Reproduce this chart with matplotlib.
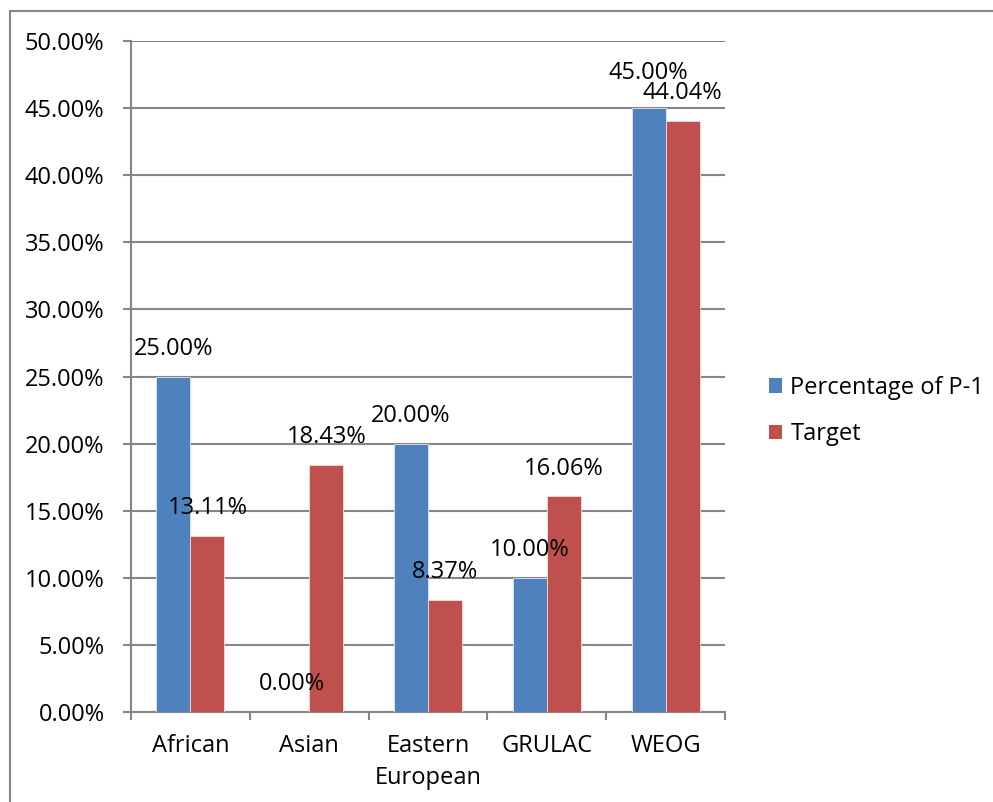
import matplotlib
matplotlib.use("Agg")
import matplotlib.pyplot as plt
from matplotlib.patches import Rectangle, Patch
import numpy as np

categories = ["African", "Asian", "Eastern\nEuropean", "GRULAC", "WEOG"]
series_names = ["Percentage of P-1", "Target"]
p1_values = [25.00, 0.00, 20.00, 10.00, 45.00]
target_values = [13.11, 18.43, 8.37, 16.06, 44.04]
y_ticks = [0, 5, 10, 15, 20, 25, 30, 35, 40, 45, 50]

blue = "#4F81BD"
red = "#C0504D"
grid_gray = "#868686"

plt.rcParams["font.family"] = ["Open Sans", "DejaVu Sans"]
fs = 17

fig = plt.figure(figsize=(9.93, 8.02), dpi=100)
ax = fig.add_axes([131 / 993, 1 - 712 / 802, (725 - 131) / 993, (712 - 41) / 802])

x = np.arange(len(categories))
w = 0.286
b1 = ax.bar(x - w / 2, p1_values, w, color=blue, edgecolor="#dfe8f3", linewidth=0.6, zorder=3)
b2 = ax.bar(x + w / 2, target_values, w, color=red, edgecolor="#f3dcdb", linewidth=0.6, zorder=3)

# value labels above each bar; the WEOG pair is nudged apart so they don't collide
extra_lift = {(0, 4): 5.0}
for si, (bars, vals) in enumerate(((b1, p1_values), (b2, target_values))):
    for ci, (rect, v) in enumerate(zip(bars, vals)):
        dy = 20 + extra_lift.get((si, ci), 0.0)
        ax.annotate(f"{v:.2f}%", (rect.get_x() + rect.get_width() / 2, v),
                    xytext=(0, dy), textcoords="offset points",
                    ha="center", va="center", fontsize=fs, color="black", zorder=5)

ax.set_xlim(-0.5, len(categories) - 0.5)
ax.set_ylim(0, 50)
ax.set_yticks(y_ticks)
ax.set_yticklabels([f"{t:.2f}%" for t in y_ticks], fontsize=fs)
ax.yaxis.grid(True, color=grid_gray, linewidth=1.5, zorder=0)
ax.set_axisbelow(True)

# category labels placed between boundary ticks
ax.set_xticks(np.arange(-0.5, len(categories) + 0.5, 1.0))
ax.set_xticklabels([])
ax.set_xticks(x, minor=True)
ax.set_xticklabels(categories, minor=True, fontsize=fs, linespacing=1.45)
ax.tick_params(axis="x", which="minor", length=0, pad=16)
ax.tick_params(axis="x", which="major", length=6, width=1.5, color=grid_gray, direction="out")
ax.tick_params(axis="y", length=6, width=1.5, color=grid_gray, direction="out", pad=13)

for s in ("top", "right"):
    ax.spines[s].set_visible(False)
for s in ("left", "bottom"):
    ax.spines[s].set_color(grid_gray)
    ax.spines[s].set_linewidth(1.5)

handles = [Patch(facecolor=blue), Patch(facecolor=red)]
fig.legend(handles, series_names, loc="center left",
           bbox_to_anchor=(748 / 993, 1 - 411 / 802), frameon=False,
           fontsize=fs, handlelength=0.55, handleheight=0.55,
           handletextpad=0.35, labelspacing=0.95)

# outer frame around the chart area
fig.patches.append(Rectangle((10 / 993, -0.1), 1.2, 1.1 - 11 / 802,
                             transform=fig.transFigure, fill=False,
                             edgecolor=grid_gray, linewidth=1.5))

fig.savefig("out.png", dpi=100)
